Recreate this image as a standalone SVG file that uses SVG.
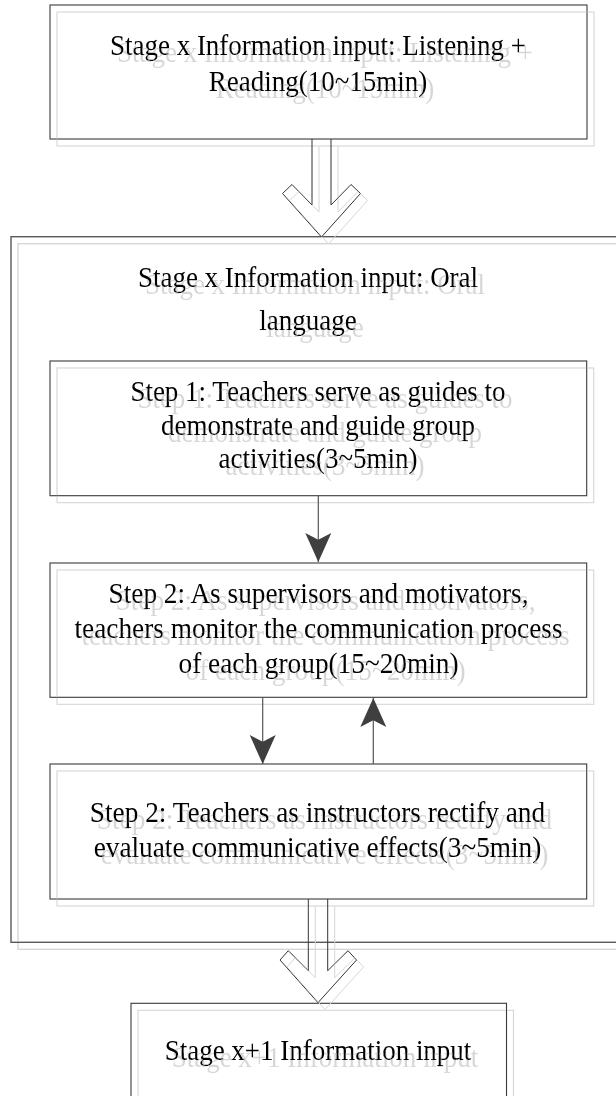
<svg xmlns="http://www.w3.org/2000/svg" width="616" height="1096" viewBox="0 0 616 1096">
<style>
.box{fill:none;stroke:#3a3a3a;stroke-width:1.1}
.big{fill:none;stroke:#5a5a5a;stroke-width:1.4}
.t{font-family:"Liberation Serif","Times New Roman",serif;font-size:30px;fill:#000;text-anchor:middle}
.hollow{fill:none;stroke:#333;stroke-width:1}
.conn{stroke:#555;stroke-width:1.2;fill:none}
.ghost{filter:url(#ghost)}
</style>
<defs>
<filter id="ghost" filterUnits="userSpaceOnUse" x="0" y="0" width="616" height="1096">
<feOffset in="SourceAlpha" dx="7" dy="7" result="o"/>
<feFlood flood-color="#d6d6d6"/>
<feComposite in2="o" operator="in" result="s"/>
<feMerge><feMergeNode in="s"/><feMergeNode in="SourceGraphic"/></feMerge>
</filter>
<marker id="ah" markerUnits="userSpaceOnUse" markerWidth="30" markerHeight="30" viewBox="0 -13 27 26" refX="26" refY="0" orient="auto">
<path d="M0,-11.7 L26,0 L0,11.7 L6,0 Z" fill="#3f3f3f"/>
</marker>
</defs>
<rect x="0" y="0" width="616" height="1096" fill="#fff"/>

<g id="stage-top" class="ghost">
<rect class="box" x="50" y="5" width="537" height="134"/>
<text class="t" transform="translate(318,55) scale(0.9,1)">Stage x Information input: Listening +</text>
<text class="t" transform="translate(318,91) scale(0.9,1)">Reading(10~15min)</text>
</g>

<g id="stage-oral" class="ghost">
<rect class="big" x="11" y="236.7" width="606" height="705.6"/>
<text class="t" transform="translate(308,287) scale(0.9,1)">Stage x Information input: Oral</text>
<text class="t" transform="translate(308,330) scale(0.9,1)">language</text>
</g>

<g id="step1" class="ghost">
<rect class="box" x="50" y="361" width="536.7" height="134.7"/>
<text class="t" transform="translate(318,400.5) scale(0.9,1)">Step 1: Teachers serve as guides to</text>
<text class="t" transform="translate(318,434.5) scale(0.9,1)">demonstrate and guide group</text>
<text class="t" transform="translate(318,468) scale(0.9,1)">activities(3~5min)</text>
</g>

<g id="step2" class="ghost">
<rect class="box" x="50" y="563" width="536.7" height="134.3"/>
<text class="t" transform="translate(318.5,603.3) scale(0.91,1)">Step 2: As supervisors and motivators,</text>
<text class="t" transform="translate(318.5,638.3) scale(0.91,1)">teachers monitor the communication process</text>
<text class="t" transform="translate(318.5,673.3) scale(0.91,1)">of each group(15~20min)</text>
</g>

<g id="step3" class="ghost">
<rect class="box" x="50" y="764" width="536.7" height="135"/>
<text class="t" transform="translate(317.5,821.7) scale(0.91,1)">Step 2: Teachers as instructors rectify and</text>
<text class="t" transform="translate(317.5,856.7) scale(0.91,1)">evaluate communicative effects(3~5min)</text>
</g>

<g id="stage-next" class="ghost">
<rect class="box" x="131" y="1003.3" width="375.5" height="110"/>
<text class="t" transform="translate(318,1060) scale(0.9,1)">Stage x+1 Information input</text>
</g>

<g id="connectors">
<g class="ghost">
<path class="hollow" d="M312,139 L312,205 L292,184.5 L282.5,193.5 L321.5,237 L360.5,193.5 L351,184.5 L331,205 L331,139"/>
<path class="hollow" d="M308.3,899 L308.3,970.7 L288.3,950.7 L280,960 L318,1002.7 L356.5,960 L348,950.7 L327.7,970.7 L327.7,899"/>
</g>
<line class="conn" x1="318.3" y1="495.7" x2="318.3" y2="562" marker-end="url(#ah)"/>
<line class="conn" x1="262.7" y1="697.3" x2="262.7" y2="764" marker-end="url(#ah)"/>
<line class="conn" x1="373.3" y1="764" x2="373.3" y2="698" marker-end="url(#ah)"/>
</g>
</svg>
